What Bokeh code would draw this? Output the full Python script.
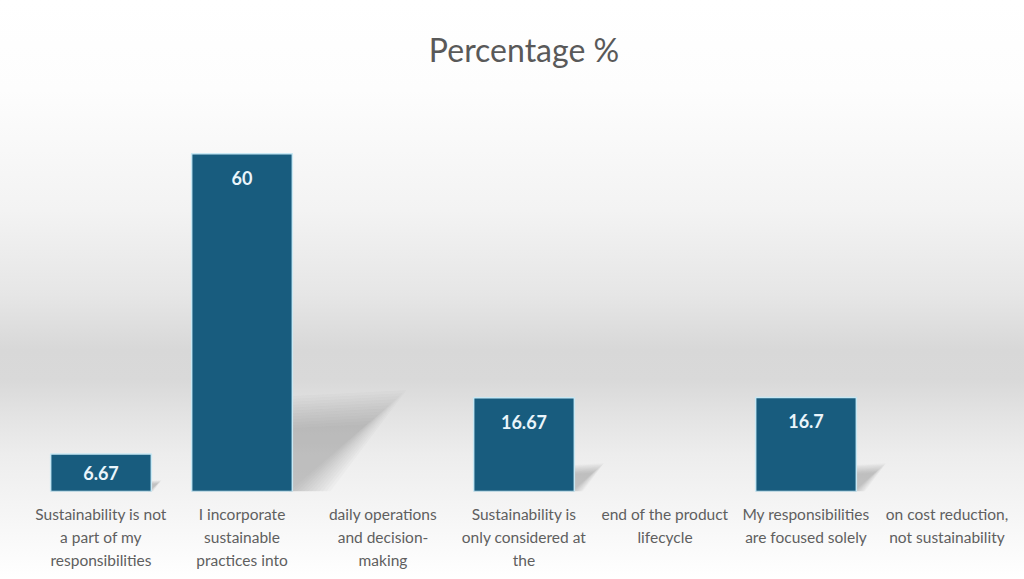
import numpy as np
from bokeh.plotting import figure
from bokeh.models import ColumnDataSource, Range1d, FixedTicker, InlineStyleSheet
from bokeh.embed import file_html
from bokeh.resources import INLINE

categories = [
    "Sustainability is not\na part of my\nresponsibilities",
    "I incorporate\nsustainable\npractices into",
    "daily operations\nand decision-\nmaking",
    "Sustainability is\nonly considered at\nthe",
    "end of the product\nlifecycle",
    "My responsibilities\nare focused solely",
    "on cost reduction,\nnot sustainability",
]
values = [6.67, 60, None, 16.67, None, 16.7, None]
value_labels = ["6.67", "60", "", "16.67", "", "16.7", ""]

Y_MAX = 73.0
BAR_W = 0.714
PX_PER_UNIT = 411.0 / Y_MAX

idx = [i for i, v in enumerate(values) if v is not None]
tops = [values[i] for i in idx]
src = ColumnDataSource(dict(
    x=idx,
    top=tops,
    label=[value_labels[i] for i in idx],
    yoff=[min(24.0, v * PX_PER_UNIT / 2.0) for v in tops],
))

# soft perspective shadows derived from bar heights
sh_xs, sh_ys = [], []
for s in np.linspace(0.8, 1.2, 12):
    for i, v in zip(idx, tops):
        xr = i + BAR_W / 2 - 0.02
        sh_xs.append([xr, xr, xr + 0.0115 * v * s, xr + 0.012 * v * (s - 0.8)])
        sh_ys.append([0, 0.235 * v * s, 0.25 * v * s, 0])

grad = ("linear-gradient(to bottom, #ffffff 0px, #fdfdfd 90px, #f3f3f3 210px, "
        "#e6e6e6 295px, #d8d8d8 350px, #d9d9d9 380px, #e3e3e3 415px, #ededed 455px, "
        "#f5f5f5 510px, #ffffff 579px)")

p = figure(width=1024, height=579, x_range=Range1d(-0.5, 6.5), y_range=Range1d(0, Y_MAX),
           output_backend="svg", toolbar_location=None, y_axis_location=None,
           min_border_left=30, min_border_right=7, min_border_top=80, min_border_bottom=88)
p.styles = {"background": grad}
p.stylesheets = [InlineStyleSheet(css=":host { background: %s; }" % grad)]
p.background_fill_color = None
p.border_fill_color = None
p.outline_line_color = None
p.grid.visible = False

p.title.text = "Percentage %"
p.title.align = "center"
p.title.text_font = "Lato"
p.title.text_font_size = "32px"
p.title.text_font_style = "normal"
p.title.text_color = "#595959"
p.title.standoff = 24

p.patches(sh_xs, sh_ys, fill_color="#707070", fill_alpha=0.035, line_color=None)

p.vbar(x="x", top="top", width=BAR_W, bottom=0, source=src,
       fill_color="#185c7e", line_color="#c8e8f4", line_width=1.5)

p.text(x="x", y="top", text="label", source=src, y_offset="yoff",
       text_align="center", text_baseline="middle",
       text_font={"value": "Lato"}, text_font_size="18px", text_font_style="bold",
       text_color="#eaf5fb")

ax = p.xaxis[0]
ax.ticker = FixedTicker(ticks=list(range(len(categories))))
ax.major_label_overrides = {i: c for i, c in enumerate(categories)}
ax.axis_line_color = None
ax.major_tick_line_color = None
ax.minor_tick_line_color = None
ax.major_label_text_font = "Lato"
ax.major_label_text_font_size = "15.5px"
ax.major_label_text_color = "#5f5f5f"
ax.major_label_text_line_height = 1.3
ax.major_label_standoff = 7

open("out.html", "w").write(file_html(p, INLINE))
